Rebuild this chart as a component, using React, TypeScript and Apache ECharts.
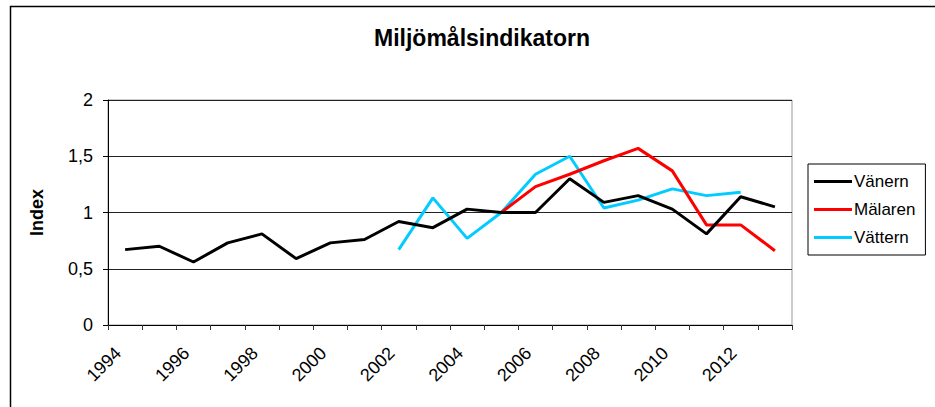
import React, { useEffect, useRef } from "react";
import * as echarts from "echarts";

const title = "Miljömålsindikatorn";
const yAxisName = "Index";
const years = ["1994","1995","1996","1997","1998","1999","2000","2001","2002","2003","2004","2005","2006","2007","2008","2009","2010","2011","2012","2013"];
const vanern = [0.67, 0.70, 0.56, 0.73, 0.81, 0.59, 0.73, 0.76, 0.92, 0.865, 1.03, 1.0, 1.0, 1.30, 1.09, 1.15, 1.03, 0.81, 1.14, 1.05];
const malaren = [null, null, null, null, null, null, null, null, null, null, null, 1.0, 1.23, 1.34, 1.46, 1.57, 1.37, 0.89, 0.89, 0.66];
const vattern = [null, null, null, null, null, null, null, null, 0.67, 1.13, 0.77, 1.0, 1.34, 1.50, 1.04, 1.11, 1.21, 1.15, 1.18, null];
const seriesNames = ["Vänern", "Mälaren", "Vättern"];
const seriesColors = ["#000000", "#ff0000", "#00ccff"];

const FONT = "'Liberation Sans', Arial, sans-serif";

export default function App() {
  const ref = useRef<HTMLDivElement>(null);
  useEffect(() => {
    if (!ref.current) return;
    const chart = echarts.init(ref.current, undefined, { renderer: "svg" });
    const datasets = [vanern, malaren, vattern];
    chart.setOption({
      animation: false,
      backgroundColor: "#ffffff",
      textStyle: { fontFamily: FONT },
      title: {
        text: title,
        left: 477,
        top: 21,
        textAlign: "center",
        textStyle: { fontSize: 23, fontWeight: "bold", color: "#000", fontFamily: FONT },
      },
      graphic: [
        {
          type: "rect",
          shape: { x: 10.5, y: 6.5, width: 1000, height: 1000 },
          style: { fill: "none", stroke: "#000", lineWidth: 1.5 },
          silent: true,
        },
      ],
      legend: {
        orient: "vertical",
        left: 808,
        top: 164,
        width: 121,
        padding: [9, 10, 9, 6],
        itemGap: 11,
        itemWidth: 38,
        itemHeight: 3,
        icon: "rect",
        borderColor: "#000",
        borderWidth: 1,
        textStyle: { fontSize: 17, color: "#000", fontFamily: FONT, padding: [0, 0, 0, -3] },
        data: seriesNames,
      },
      grid: {
        left: 108,
        right: 143,
        top: 100,
        bottom: 82,
        show: true,
        borderColor: "#999",
        borderWidth: 1,
      },
      xAxis: {
        type: "category",
        data: years,
        boundaryGap: true,
        axisLine: { show: true, lineStyle: { color: "#000", width: 1 } },
        axisTick: { show: true, alignWithLabel: false, interval: 0, length: 5, inside: false, lineStyle: { color: "#333" } },
        axisLabel: {
          interval: 1,
          rotate: 45,
          margin: 18,
          fontSize: 18,
          color: "#000",
          fontFamily: FONT,
          padding: [0, 10, 0, 0],
        },
      },
      yAxis: {
        type: "value",
        min: 0,
        max: 2,
        interval: 0.5,
        name: yAxisName,
        nameLocation: "middle",
        nameGap: 62,
        nameTextStyle: { fontSize: 18, fontWeight: "bold", color: "#000", fontFamily: FONT },
        axisLine: { show: true, lineStyle: { color: "#000", width: 1 } },
        axisTick: { show: true, length: 5, lineStyle: { color: "#000" } },
        splitLine: { show: true, lineStyle: { color: "#222", width: 1 } },
        axisLabel: {
          fontSize: 18,
          color: "#000",
          margin: 15,
          fontFamily: FONT,
          formatter: (v: number) => String(v).replace(".", ","),
        },
      },
      series: seriesNames.map((name, i) => ({
        name,
        type: "line",
        data: datasets[i],
        showSymbol: false,
        symbol: "none",
        lineStyle: { color: seriesColors[i], width: 3 },
        itemStyle: { color: seriesColors[i] },
        z: 3 - i,
      })),
    });
    return () => chart.dispose();
  }, []);
  return (
    <div
      ref={ref}
      style={{ position: "absolute", left: 0, top: 0, width: 935, height: 407 }}
    />
  );
}
